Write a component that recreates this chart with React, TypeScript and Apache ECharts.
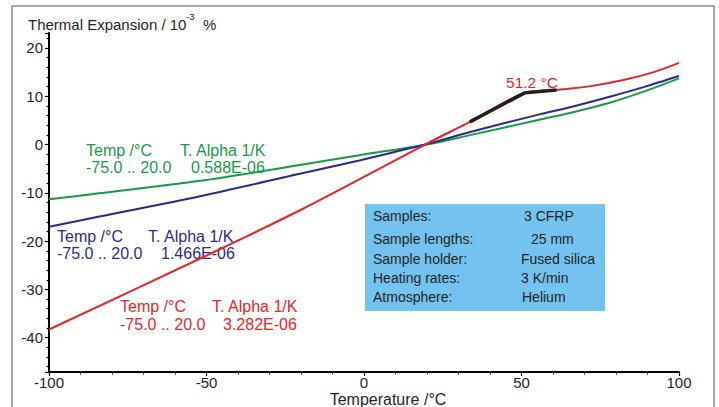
import React, { useEffect, useRef } from "react";
import * as echarts from "echarts";

// Temperatures (°C) and thermal expansion (10^-3 %)
const redT = [-100, -52, -20, 20, 33.6, 51, 61.1, 72, 82, 92, 100];
const redV = [-38.3, -23.6, -13.5, 0.2, 4.7, 10.7, 11.3, 12.1, 13.3, 15.0, 16.9];

const blueT = [-100, -84, -52, -20, -1.5, 20, 34, 56, 67, 78, 89, 100];
const blueV = [-17.0, -14.9, -10.7, -6.0, -3.3, 0.1, 2.65, 6.3, 8.0, 9.9, 11.95, 14.2];

const greenT = [-100, -84, -52, -20, -1.5, 20, 34, 56, 67, 78, 89, 100];
const greenV = [-11.35, -10.1, -7.5, -4.2, -2.2, 0.0, 2.0, 5.2, 6.8, 8.65, 11.0, 13.7];

// Onset marker (black tangent segments)
const onsetT = [33.6, 51, 61.1];
const onsetV = [4.7, 10.7, 11.3];

const xTicks = { min: -100, max: 100, interval: 50 };
const yRange = { min: -47.1, max: 23.1 };

const greenLegend = ["Temp /°C", "T. Alpha 1/K", "-75.0 .. 20.0", "0.588E-06"];
const blueLegend = ["Temp /°C", "T. Alpha 1/K", "-75.0 .. 20.0", "1.466E-06"];
const redLegend = ["Temp /°C", "T. Alpha 1/K", "-75.0 .. 20.0", "3.282E-06"];

const infoLabels = ["Samples:", "Sample lengths:", "Sample holder:", "Heating rates:", "Atmosphere:"];
const infoValues = ["3 CFRP", "25 mm", "Fused silica", "3 K/min", "Helium"];

const RED = "#e42528";
const BLUE = "#2c2a86";
const GREEN = "#17994a";
const DARK = "#231f20";
const FONT = '"Liberation Sans", Arial, sans-serif';

const zip = (a: number[], b: number[]) => a.map((v, i) => [v, b[i]]);

function txt(x: number, y: number, text: string, fill: string, size = 16, align = "left") {
  return {
    type: "text",
    x,
    y,
    style: {
      text,
      fill,
      fontSize: size,
      fontFamily: FONT,
      textAlign: align,
      textVerticalAlign: "middle",
    },
  };
}

function legendBlock(lines: string[], color: string, x1: number, x2: number, x3: number, y1: number, y2: number) {
  return [
    txt(x1, y1, lines[0], color),
    txt(x2, y1, lines[1], color),
    txt(x1, y2, lines[2], color),
    txt(x3, y2, lines[3], color),
  ];
}

export default function App() {
  const ref = useRef<HTMLDivElement>(null);
  useEffect(() => {
    const chart = echarts.init(ref.current!, null, { renderer: "svg" });
    const infoY = [216, 239, 259, 278, 297];
    const infoX = [524, 531, 521, 521, 522];
    const graphic: any[] = [
      {
        type: "rect",
        shape: { x: 12, y: 6, width: 702, height: 430 },
        style: { fill: "none", stroke: "#8c8c8c", lineWidth: 1.5 },
        z: -10,
      },
      txt(28, 24, "Thermal Expansion / 10", DARK, 15),
      txt(186, 16, "-3", DARK, 9.5),
      txt(203, 24, "%", DARK, 15),
      txt(388, 399, "Temperature /°C", DARK, 16, "center"),
      txt(532, 82, "51.2 °C", RED, 15.5, "center"),
      ...legendBlock(greenLegend, GREEN, 86, 180, 191, 150, 167),
      ...legendBlock(blueLegend, BLUE, 57, 148, 161, 236, 253),
      ...legendBlock(redLegend, RED, 120, 212, 223, 306, 324),
      {
        type: "rect",
        shape: { x: 365, y: 204, width: 240, height: 107 },
        style: { fill: "#74c3ee" },
        z: 5,
      },
      ...infoLabels.map((t, i) => ({ ...txt(373, infoY[i], t, DARK, 14), z: 6 })),
      ...infoValues.map((t, i) => ({ ...txt(infoX[i], infoY[i], t, DARK, 14), z: 6 })),
    ];

    chart.setOption({
      animation: false,
      backgroundColor: "#ffffff",
      grid: { left: 49, right: 40, top: 33, bottom: 35, containLabel: false },
      xAxis: {
        type: "value",
        min: xTicks.min,
        max: xTicks.max,
        interval: xTicks.interval,
        axisLine: { show: true, onZero: false, lineStyle: { color: "#000", width: 2 } },
        axisTick: { show: true, length: 4, lineStyle: { color: "#000", width: 1.2 } },
        minorTick: { show: true, splitNumber: 5, length: 2.5, lineStyle: { color: "#000", width: 1.2 } },
        splitLine: { show: false },
        axisLabel: { color: DARK, fontSize: 15, fontFamily: FONT, margin: 3 },
      },
      yAxis: {
        type: "value",
        min: yRange.min,
        max: yRange.max,
        splitNumber: 7,
        axisLine: { show: true, onZero: false, lineStyle: { color: "#000", width: 2 } },
        axisTick: { show: true, length: 4, lineStyle: { color: "#000", width: 1.2 } },
        minorTick: { show: true, splitNumber: 5, length: 2.5, lineStyle: { color: "#000", width: 1.2 } },
        splitLine: { show: false },
        axisLabel: {
          color: DARK,
          fontSize: 15,
          fontFamily: FONT,
          margin: 6,
          showMinLabel: false,
          showMaxLabel: false,
          formatter: (v: number) => (Math.abs(v % 10) < 1e-6 ? String(v) : ""),
        },
      },
      series: [
        {
          type: "line",
          data: zip(greenT, greenV),
          smooth: 0.3,
          showSymbol: false,
          lineStyle: { color: GREEN, width: 2 },
          z: 2,
        },
        {
          type: "line",
          data: zip(blueT, blueV),
          smooth: 0.3,
          showSymbol: false,
          lineStyle: { color: BLUE, width: 2 },
          z: 3,
        },
        {
          type: "line",
          data: zip(redT, redV),
          smooth: 0.3,
          showSymbol: false,
          lineStyle: { color: RED, width: 2 },
          z: 4,
        },
        {
          type: "line",
          data: zip(onsetT, onsetV),
          showSymbol: false,
          lineStyle: { color: DARK, width: 3.5 },
          z: 5,
        },
      ],
      graphic,
    });
    return () => chart.dispose();
  }, []);
  return (
    <div
      ref={ref}
      style={{ position: "fixed", left: 0, top: 0, width: 719, height: 407, background: "#fff" }}
    />
  );
}
